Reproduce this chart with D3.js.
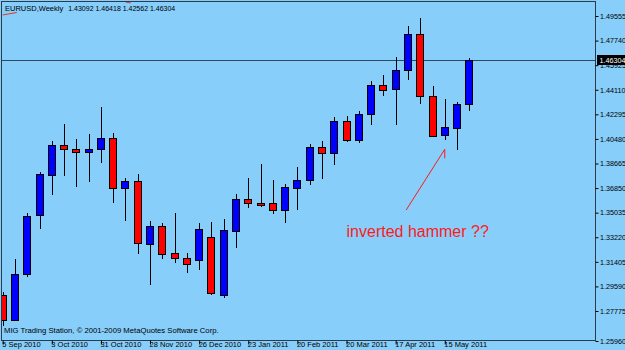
<!DOCTYPE html>
<html>
<head>
<meta charset="utf-8">
<script src="https://cdn.jsdelivr.net/npm/d3@7"></script>
<style>
  body { margin: 0; background: #87cefa; }
  svg { display: block; }
  text { font-family: "Liberation Sans", Arial, sans-serif; }
</style>
</head>
<body>
<div id="chart"></div>
<script>
// weekly EURUSD bars (Sunday stamp, as MT4 shows them)
const weeks = [
  '2010-09-05', '2010-09-12', '2010-09-19', '2010-09-26', '2010-10-03', '2010-10-10', '2010-10-17',
  '2010-10-24', '2010-10-31', '2010-11-07', '2010-11-14', '2010-11-21', '2010-11-28', '2010-12-05',
  '2010-12-12', '2010-12-19', '2010-12-26', '2011-01-02', '2011-01-09', '2011-01-16', '2011-01-23',
  '2011-01-30', '2011-02-06', '2011-02-13', '2011-02-20', '2011-02-27', '2011-03-06', '2011-03-13',
  '2011-03-20', '2011-03-27', '2011-04-03', '2011-04-10', '2011-04-17', '2011-04-24', '2011-05-01',
  '2011-05-08', '2011-05-15', '2011-05-22', '2011-05-29'
];
const opens = [
  1.28956, 1.27231, 1.30485, 1.34840, 1.37838, 1.40031, 1.39735, 1.39492, 1.39713, 1.40525,
  1.36834, 1.37373, 1.32773, 1.34073, 1.32035, 1.31666, 1.31540, 1.33216, 1.28956, 1.33703,
  1.36044, 1.35771, 1.35726, 1.35232, 1.36878, 1.37447, 1.39905, 1.39492, 1.41825, 1.40400,
  1.42297, 1.44483, 1.44143, 1.45568, 1.48226, 1.43649, 1.40717, 1.41308, 1.43092
];
const highs = [
  1.29200, 1.31592, 1.34988, 1.38060, 1.40326, 1.41581, 1.40474, 1.40843, 1.42814, 1.40895,
  1.37572, 1.37890, 1.34420, 1.34250, 1.34988, 1.32035, 1.34250, 1.34368, 1.34589, 1.36413,
  1.37617, 1.38628, 1.37447, 1.37151, 1.38384, 1.40105, 1.40348, 1.42098, 1.42172, 1.42541,
  1.44778, 1.45177, 1.46506, 1.48817, 1.49385, 1.44387, 1.43427, 1.43228, 1.46418
];
const lows = [
  1.26868, 1.27170, 1.30307, 1.33807, 1.36339, 1.37742, 1.36930, 1.37321, 1.38680, 1.35726,
  1.34442, 1.31983, 1.29694, 1.31592, 1.31341, 1.30558, 1.30802, 1.28993, 1.28712, 1.32404,
  1.35402, 1.35431, 1.34936, 1.34250, 1.35232, 1.37078, 1.37498, 1.38554, 1.40289, 1.40156,
  1.41507, 1.43649, 1.41507, 1.44830, 1.43036, 1.40599, 1.40400, 1.39662, 1.42562
];
const closes = [
  1.27231, 1.30485, 1.34789, 1.37868, 1.40031, 1.39713, 1.39492, 1.39735, 1.40525, 1.36834,
  1.37373, 1.32773, 1.34073, 1.32035, 1.31666, 1.31223, 1.33829, 1.29082, 1.33755, 1.36044,
  1.35771, 1.35623, 1.35232, 1.36908, 1.37469, 1.39905, 1.39492, 1.41825, 1.40400, 1.42320,
  1.44461, 1.44143, 1.45568, 1.48226, 1.43649, 1.40732, 1.41323, 1.43080, 1.46304
];

const priceTicks = [
  1.49555, 1.47740, 1.45925, 1.44110, 1.42295, 1.40480, 1.38665,
  1.36850, 1.35035, 1.33220, 1.31405, 1.29590, 1.27775, 1.25960
];
const dateTicks = [
  '2010-09-05', '2010-10-03', '2010-10-31', '2010-11-28', '2010-12-26',
  '2011-01-23', '2011-02-20', '2011-03-20', '2011-04-17', '2011-05-15'
];

const symbolTitle = 'EURUSD,Weekly';
const copyright = 'MIG Trading Station, \u00a9 2001-2009 MetaQuotes Software Corp.';
const noteText = 'inverted hammer ??';
// note arrow and label, in chart coordinates (date, price)
const noteArrow = [['2011-04-23', 1.35232], ['2011-05-15', 1.39713]];
const noteLabel = ['2011-03-20', 1.33238];
// stray red trendline pieces peeking out at the top-left
const redStubs = [
  [['2010-09-05', 1.49629], ['2010-09-13', 1.49813]],
  [['2010-11-14', 1.50589], ['2010-11-17', 1.50515]]
];

document.addEventListener('DOMContentLoaded', function() {
    const width = 625;
    const height = 350;
    const plot = { left: 2, right: 596, top: 2, bottom: 341 };
    const barStep = 12.28;
    const firstBarX = 2.7;
    const fmt = d3.format('.5f');

    const parseDate = d3.utcParse('%Y-%m-%d');
    const candles = weeks.map((w, i) => ({
        date: parseDate(w),
        open: opens[i],
        high: highs[i],
        low: lows[i],
        close: closes[i]
    }));
    const last = candles[candles.length - 1];

    const svg = d3.select('#chart')
        .append('svg')
        .attr('width', width)
        .attr('height', height);

    svg.append('rect')
        .attr('width', width)
        .attr('height', height)
        .attr('fill', '#87cefa');

    const x = d3.scaleUtc()
        .domain([candles[0].date, last.date])
        .range([firstBarX, firstBarX + (candles.length - 1) * barStep]);

    // MT4 pins its lowest label to the bottom edge, the rest are evenly stepped
    const n = priceTicks.length;
    const y = d3.scaleLinear()
        .domain([priceTicks[n - 1], priceTicks[n - 2], priceTicks[0]])
        .range([plot.bottom, 311, 16]);

    svg.append('clipPath')
        .attr('id', 'plot-clip')
        .append('rect')
        .attr('x', plot.left)
        .attr('y', 0)
        .attr('width', plot.right - plot.left)
        .attr('height', plot.bottom);

    const g = svg.append('g').attr('clip-path', 'url(#plot-clip)');

    // current price line
    const lastY = Math.round(y(last.close)) + 0.5;
    g.append('line')
        .attr('x1', 0)
        .attr('x2', plot.right)
        .attr('y1', lastY)
        .attr('y2', lastY)
        .attr('stroke', '#34495a')
        .attr('stroke-width', 1);

    const bars = g.selectAll('.candle')
        .data(candles)
        .enter().append('g')
        .attr('class', 'candle');

    bars.append('line')
        .attr('x1', d => Math.round(x(d.date)) + 0.5)
        .attr('x2', d => Math.round(x(d.date)) + 0.5)
        .attr('y1', d => Math.round(y(d.high)))
        .attr('y2', d => Math.round(y(d.low)))
        .attr('stroke', '#000')
        .attr('stroke-width', 1);

    bars.append('rect')
        .attr('x', d => Math.round(x(d.date)) - 3.5)
        .attr('y', d => Math.round(y(Math.max(d.open, d.close))) + 0.5)
        .attr('width', 7)
        .attr('height', d => Math.max(1, Math.round(Math.abs(y(d.open) - y(d.close)))))
        .attr('fill', d => d.close >= d.open ? '#0000ff' : '#ff0000')
        .attr('stroke', '#000')
        .attr('stroke-width', 1);

    // frame
    svg.append('rect')
        .attr('x', plot.left - 0.5)
        .attr('y', plot.top - 0.5)
        .attr('width', plot.right - plot.left)
        .attr('height', plot.bottom - plot.top)
        .attr('fill', 'none')
        .attr('stroke', '#2b3b4b')
        .attr('stroke-width', 1);

    // price axis
    const yAxis = svg.append('g')
        .attr('transform', `translate(${plot.right - 0.5},0)`)
        .call(d3.axisRight(y)
            .tickValues(priceTicks)
            .tickSize(3)
            .tickPadding(1.5)
            .tickFormat(fmt));
    yAxis.select('.domain').remove();
    yAxis.selectAll('line').attr('stroke', '#000');
    yAxis.selectAll('text')
        .attr('fill', '#000')
        .style('font-size', '7.2px')
        .style('font-family', '"Liberation Sans", Arial, sans-serif');

    // time axis
    const xAxis = svg.append('g')
        .attr('transform', `translate(0,${plot.bottom - 0.5})`)
        .call(d3.axisBottom(x)
            .tickValues(dateTicks.map(parseDate))
            .tickSize(4)
            .tickFormat(d3.utcFormat('%-d %b %Y')));
    xAxis.select('.domain').remove();
    xAxis.selectAll('line').attr('stroke', '#000');
    xAxis.selectAll('text')
        .attr('fill', '#000')
        .attr('text-anchor', 'start')
        .attr('x', -1)
        .attr('y', 1.5)
        .attr('dy', '0.71em')
        .style('font-size', '7.5px')
        .style('font-family', '"Liberation Sans", Arial, sans-serif');

    // current price marker on the axis
    svg.append('rect')
        .attr('x', plot.right + 1)
        .attr('y', lastY - 5.5)
        .attr('width', width - plot.right - 1)
        .attr('height', 10)
        .attr('fill', '#000');
    svg.append('text')
        .attr('x', plot.right + 3.5)
        .attr('y', lastY + 2.8)
        .attr('fill', '#fff')
        .style('font-size', '7.2px')
        .text(fmt(last.close));

    // header
    const title = svg.append('text')
        .attr('x', 5)
        .attr('y', 11)
        .attr('fill', '#000')
        .style('font-size', '7.5px');
    title.append('tspan').text(symbolTitle);
    title.append('tspan')
        .attr('dx', 5)
        .style('font-size', '7px')
        .text([last.open, last.high, last.low, last.close].map(fmt).join(' '));

    svg.append('text')
        .attr('x', 4)
        .attr('y', 333)
        .attr('fill', '#000')
        .style('font-size', '7.7px')
        .text(copyright);

    redStubs.forEach(seg => {
        g.append('line')
            .attr('x1', x(parseDate(seg[0][0])))
            .attr('y1', y(seg[0][1]))
            .attr('x2', x(parseDate(seg[1][0])))
            .attr('y2', y(seg[1][1]))
            .attr('stroke', '#e8342c')
            .attr('stroke-width', 1);
    });

    // annotation
    const a0 = [x(parseDate(noteArrow[0][0])), y(noteArrow[0][1])];
    const a1 = [x(parseDate(noteArrow[1][0])), y(noteArrow[1][1])];
    g.append('path')
        .attr('d', `M${a0[0]},${a0[1]}L${a1[0]},${a1[1]}L${a1[0]},${a1[1] + 9}`)
        .attr('fill', 'none')
        .attr('stroke', '#ff1a1a')
        .attr('stroke-width', 1);

    g.append('text')
        .attr('x', x(parseDate(noteLabel[0])))
        .attr('y', y(noteLabel[1]))
        .attr('fill', '#ff1a1a')
        .style('font-size', '16px')
        .text(noteText);
});
</script>
</body>
</html>
